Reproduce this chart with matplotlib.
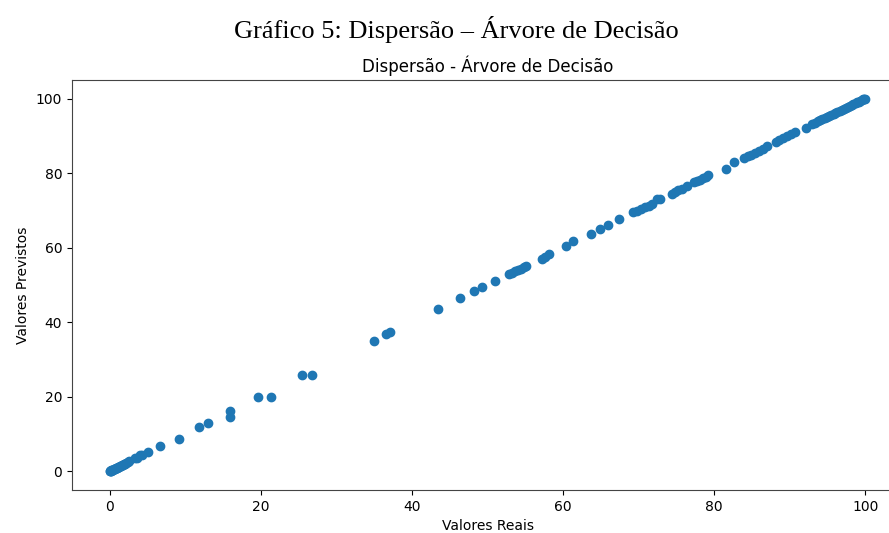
import matplotlib
matplotlib.use("Agg")
import matplotlib.pyplot as plt

reais = [0.0, 0.05, 0.1, 0.15, 0.2, 0.3, 0.4, 0.5, 0.6, 0.7, 0.8, 0.9, 1.0, 1.1, 1.2,
         1.35, 1.5, 1.6, 1.75, 1.9, 2.0, 2.2, 2.4, 2.6, 3.4, 3.6, 4.0, 4.3, 5.0, 6.6,
         9.1, 11.8, 13.0, 15.9, 15.9, 19.6, 21.3, 25.4, 26.7, 34.9, 36.6, 37.1, 43.4,
         46.4, 48.2, 49.3, 51.0, 52.8, 53.2, 53.6, 54.0, 54.4, 54.8, 55.1, 57.2, 57.6,
         58.1, 60.4, 61.3, 63.7, 64.9, 65.9, 67.4, 69.3, 69.8, 70.3, 70.8, 71.3, 71.7,
         72.4, 72.8, 74.4, 74.8, 75.2, 75.7, 76.4, 77.3, 77.7, 78.1, 78.5, 78.9, 79.2,
         81.6, 82.6, 83.9, 84.4, 84.9, 85.4, 85.9, 86.4, 87.0, 88.1, 88.6, 89.1, 89.6,
         90.2, 90.7, 92.1, 92.9, 93.3, 93.7, 94.0, 94.3, 94.6, 94.9, 95.2, 95.5, 95.8,
         96.0, 96.3, 96.6, 96.9, 97.1, 97.4, 97.7, 97.9, 98.2, 98.4, 98.7, 98.9, 99.1,
         99.3, 99.5, 99.7, 99.85, 100.0]

previstos = [0.0, 0.1, 0.1, 0.2, 0.3, 0.3, 0.4, 0.6, 0.6, 0.7, 0.9, 0.9, 1.0, 1.1, 1.3,
             1.4, 1.5, 1.7, 1.8, 2.0, 2.1, 2.3, 2.5, 2.8, 3.5, 3.7, 4.3, 4.5, 5.3, 6.7,
             8.8, 11.8, 13.1, 16.1, 14.7, 20.0, 20.0, 25.9, 25.9, 35.0, 36.8, 37.4, 43.6,
             46.4, 48.4, 49.4, 51.0, 52.9, 53.3, 53.7, 54.0, 54.4, 54.8, 55.2, 57.1, 57.6,
             58.2, 60.5, 61.8, 63.8, 65.1, 66.2, 67.6, 69.6, 70.0, 70.4, 70.9, 71.3, 71.7,
             73.2, 73.2, 74.5, 74.9, 75.4, 75.9, 76.7, 77.6, 78.0, 78.3, 78.6, 79.0, 79.6,
             81.2, 83.0, 84.1, 84.6, 85.0, 85.5, 86.1, 86.6, 87.2, 88.5, 88.9, 89.4, 89.9,
             90.5, 91.0, 92.1, 93.2, 93.5, 93.9, 94.2, 94.5, 94.8, 95.1, 95.4, 95.7, 96.0,
             96.2, 96.5, 96.7, 97.0, 97.3, 97.5, 97.8, 98.0, 98.3, 98.5, 98.8, 99.0, 99.2,
             99.4, 99.6, 99.8, 99.9, 100.0]

titulo_figura = "Gráfico 5: Dispersão – Árvore de Decisão"
titulo_eixo = "Dispersão - Árvore de Decisão"
rotulo_x = "Valores Reais"
rotulo_y = "Valores Previstos"

fig = plt.figure(figsize=(8.89, 5.33), dpi=100)
ax = fig.add_axes([0.081, 0.0807, 0.935, 0.769])
ax.scatter(reais, previstos, color="#1f77b4")
ax.set_title(titulo_eixo, fontsize=12)
ax.set_xlabel(rotulo_x)
ax.set_ylabel(rotulo_y)
ax.set_xticks([0, 20, 40, 60, 80, 100])
ax.set_yticks([0, 20, 40, 60, 80, 100])
ax.set_xlim(-5, 105)
ax.set_ylim(-5, 105)
ax.spines["right"].set_visible(False)
for s in ("left", "bottom", "top"):
    ax.spines[s].set_color("#444444")

fig.text(0.5135, 0.945, titulo_figura, ha="center", va="center",
         fontsize=19, family=["Liberation Serif", "DejaVu Serif"])

fig.savefig("out.png", dpi=100)
